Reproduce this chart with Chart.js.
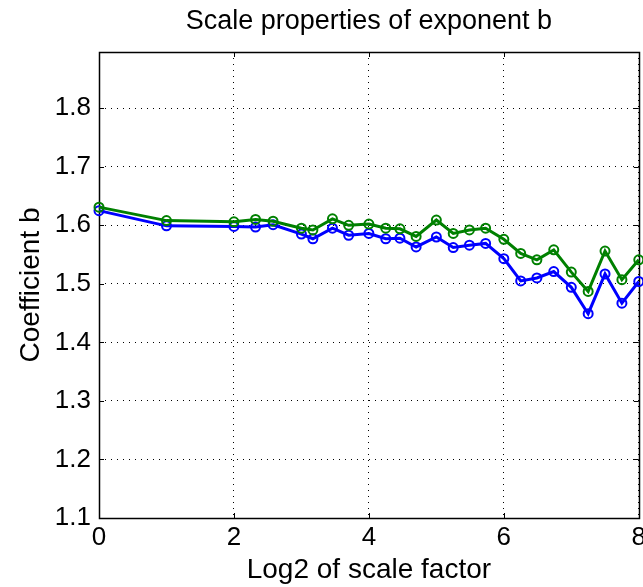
<!DOCTYPE html>
<html>
<head>
<meta charset="utf-8">
<script src="https://cdn.jsdelivr.net/npm/chart.js@4/dist/chart.umd.min.js"></script>
<style>
    html, body { margin: 0; padding: 0; background: #fff; overflow: hidden; }
    #wrap { width: 650px; height: 587px; position: relative; }
</style>
</head>
<body>
<div id="wrap"><canvas id="scaleChart"></canvas></div>
<script>
// log2 of the scale factor for each run
const log2Scale = [0, 1, 2, 2.32, 2.58, 3, 3.17, 3.46, 3.70, 4, 4.25, 4.46, 4.70,
    5, 5.25, 5.49, 5.73, 6, 6.25, 6.49, 6.74, 7, 7.25, 7.50, 7.75, 8];

// fitted exponent b, two estimates
const coeffBlue = [1.625, 1.599, 1.598, 1.597, 1.601, 1.585, 1.577, 1.595, 1.583, 1.586,
    1.577, 1.578, 1.563, 1.580, 1.562, 1.566, 1.569, 1.543, 1.505, 1.510, 1.521,
    1.494, 1.449, 1.517, 1.467, 1.504];
const coeffGreen = [1.631, 1.608, 1.606, 1.610, 1.607, 1.595, 1.592, 1.611, 1.600, 1.602,
    1.595, 1.594, 1.581, 1.609, 1.586, 1.592, 1.595, 1.576, 1.552, 1.541, 1.558,
    1.520, 1.487, 1.556, 1.507, 1.541];

const xTicks = [0, 2, 4, 6, 8];
const yTicks = [1.1, 1.2, 1.3, 1.4, 1.5, 1.6, 1.7, 1.8];

const FONT = "'Liberation Sans', Helvetica, Arial, sans-serif";

function toPoints(ys) {
    return ys.map((y, i) => ({x: log2Scale[i], y: y}));
}

function series(label, color, ys, order) {
    return {
        label: label,
        data: toPoints(ys),
        borderColor: color,
        borderWidth: 3,
        pointStyle: 'circle',
        pointRadius: 4.5,
        pointBorderWidth: 2,
        pointBorderColor: color,
        pointBackgroundColor: 'rgba(0,0,0,0)',
        pointHoverRadius: 4.5,
        tension: 0,
        fill: false,
        clip: false,
        order: order
    };
}

// box around the axes with inward tick marks
const axesBox = {
    id: 'axesBox',
    beforeDatasetsDraw(chart) {
        const {ctx, chartArea: a, scales: {x, y}} = chart;
        const len = 5;
        ctx.save();
        ctx.strokeStyle = '#000';
        ctx.lineWidth = 1;
        ctx.beginPath();
        xTicks.forEach(v => {
            const px = Math.round(x.getPixelForValue(v)) + 0.5;
            ctx.moveTo(px, a.bottom); ctx.lineTo(px, a.bottom - len);
            ctx.moveTo(px, a.top); ctx.lineTo(px, a.top + len);
        });
        yTicks.forEach(v => {
            const py = Math.round(y.getPixelForValue(v)) + 0.5;
            ctx.moveTo(a.left, py); ctx.lineTo(a.left + len, py);
            ctx.moveTo(a.right, py); ctx.lineTo(a.right - len, py);
        });
        ctx.stroke();
        ctx.lineWidth = 1.5;
        ctx.strokeRect(Math.round(a.left) + 0.5, Math.round(a.top) + 0.5,
            Math.round(a.right - a.left), Math.round(a.bottom - a.top));
        ctx.restore();
    }
};

const ctx = document.getElementById('scaleChart').getContext('2d');
const scaleChart = new Chart(ctx, {
    type: 'line',
    data: {
        datasets: [
            series('b (blue)', '#0000ff', coeffBlue, 1),
            series('b (green)', '#008000', coeffGreen, 0)
        ]
    },
    options: {
        responsive: true,
        maintainAspectRatio: false,
        devicePixelRatio: 1,
        animation: false,
        layout: { padding: { left: 0, right: 10, top: 0, bottom: 0 } },
        plugins: {
            legend: { display: false },
            tooltip: { enabled: false },
            title: {
                display: true,
                fullSize: false,
                text: 'Scale properties of exponent b',
                color: '#000',
                font: { family: FONT, size: 27, weight: 'normal' },
                padding: { top: 5, bottom: 14.6 }
            }
        },
        scales: {
            x: {
                type: 'linear',
                min: 0,
                max: 8,
                afterBuildTicks: s => { s.ticks = xTicks.map(v => ({value: v})); },
                afterFit: s => { s.height = 69; },
                ticks: {
                    color: '#000',
                    padding: 4,
                    maxRotation: 0,
                    font: { family: FONT, size: 26 },
                    callback: v => String(v)
                },
                grid: { color: '#000', lineWidth: 1, drawTicks: false },
                border: { display: false, dash: [1, 5] },
                title: {
                    display: true,
                    text: 'Log2 of scale factor',
                    color: '#000',
                    font: { family: FONT, size: 28 },
                    padding: { top: 0, bottom: 0 }
                }
            },
            y: {
                type: 'linear',
                min: 1.1,
                max: 1.896,
                afterBuildTicks: s => { s.ticks = yTicks.map(v => ({value: v})); },
                afterFit: s => { s.width = 99; },
                ticks: {
                    color: '#000',
                    padding: 8,
                    font: { family: FONT, size: 26 },
                    callback: v => v.toFixed(1)
                },
                grid: { color: '#000', lineWidth: 1, drawTicks: false },
                border: { display: false, dash: [1, 5] },
                title: {
                    display: true,
                    text: 'Coefficient b',
                    color: '#000',
                    font: { family: FONT, size: 28 },
                    padding: { top: 14, bottom: 0 }
                }
            }
        }
    },
    plugins: [axesBox]
});
</script>
</body>
</html>
